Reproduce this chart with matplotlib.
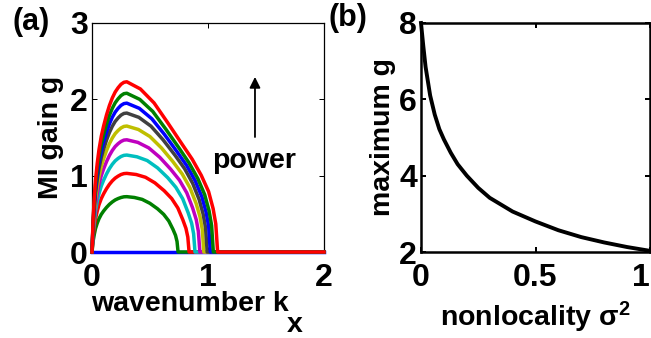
import matplotlib
matplotlib.use('Agg')
import matplotlib.pyplot as plt

plt.rcParams['font.family'] = ['Liberation Sans', 'DejaVu Sans']
plt.rcParams['font.weight'] = 'bold'
plt.rcParams['mathtext.fontset'] = 'custom'
plt.rcParams['mathtext.rm'] = 'Liberation Sans:bold'
plt.rcParams['mathtext.bf'] = 'Liberation Sans:bold'
plt.rcParams['mathtext.it'] = 'Liberation Sans:bold'
plt.rcParams['mathtext.default'] = 'rm'

# ---------------- data: panel (a) ----------------
K_RISE = [0, 0.01, 0.02, 0.03, 0.045, 0.06, 0.08, 0.1, 0.125, 0.15, 0.175, 0.2, 0.225, 0.25, 0.275, 0.3]
K_END = 2.0

g1_rise = [0] * 16
k1_fall = []
g1_fall = []

g2_rise = [0, 0.145, 0.232, 0.305, 0.377, 0.435, 0.493, 0.537, 0.584, 0.624, 0.656, 0.682, 0.700, 0.714, 0.723, 0.725]
k2_fall = [0.366, 0.433, 0.499, 0.565, 0.618, 0.662, 0.698, 0.720, 0.733, 0.742]
g2_fall = [0.714, 0.689, 0.638, 0.566, 0.493, 0.406, 0.297, 0.218, 0.138, 0]

g3_rise = [0, 0.206, 0.330, 0.433, 0.536, 0.618, 0.700, 0.762, 0.829, 0.886, 0.932, 0.968, 0.994, 1.015, 1.027, 1.03]
k3_fall = [0.381, 0.461, 0.542, 0.622, 0.687, 0.740, 0.783, 0.810, 0.826, 0.837]
g3_fall = [1.015, 0.979, 0.906, 0.803, 0.700, 0.577, 0.422, 0.309, 0.196, 0]

g4_rise = [0, 0.254, 0.406, 0.533, 0.660, 0.762, 0.864, 0.940, 1.022, 1.092, 1.149, 1.194, 1.226, 1.251, 1.266, 1.27]
k4_fall = [0.388, 0.476, 0.565, 0.653, 0.723, 0.782, 0.829, 0.859, 0.876, 0.888]
g4_fall = [1.247, 1.198, 1.102, 0.973, 0.847, 0.697, 0.514, 0.376, 0.239, 0]

g5_rise = [0, 0.294, 0.470, 0.617, 0.764, 0.882, 1.000, 1.088, 1.183, 1.264, 1.330, 1.382, 1.419, 1.448, 1.466, 1.47]
k5_fall = [0.395, 0.489, 0.584, 0.678, 0.754, 0.817, 0.867, 0.899, 0.917, 0.930]
g5_fall = [1.436, 1.364, 1.241, 1.085, 0.941, 0.775, 0.579, 0.422, 0.269, 0]

g6_rise = [0, 0.330, 0.528, 0.693, 0.858, 0.990, 1.122, 1.221, 1.328, 1.419, 1.493, 1.551, 1.592, 1.625, 1.645, 1.65]
k6_fall = [0.400, 0.499, 0.599, 0.698, 0.778, 0.844, 0.898, 0.931, 0.951, 0.964]
g6_fall = [1.605, 1.513, 1.363, 1.183, 1.021, 0.843, 0.635, 0.462, 0.295, 0]

g7_rise = [0, 0.364, 0.582, 0.764, 0.946, 1.092, 1.238, 1.347, 1.465, 1.565, 1.647, 1.711, 1.756, 1.793, 1.815, 1.82]
k7_fall = [0.404, 0.508, 0.612, 0.716, 0.799, 0.868, 0.924, 0.958, 0.979, 0.993]
g7_fall = [1.764, 1.649, 1.471, 1.267, 1.090, 0.899, 0.686, 0.497, 0.319, 0]

g8_rise = [0, 0.390, 0.624, 0.819, 1.014, 1.170, 1.326, 1.443, 1.570, 1.677, 1.765, 1.833, 1.882, 1.921, 1.944, 1.95]
k8_fall = [0.408, 0.516, 0.624, 0.732, 0.818, 0.890, 0.948, 0.984, 1.006, 1.020]
g8_fall = [1.882, 1.745, 1.541, 1.316, 1.129, 0.932, 0.720, 0.519, 0.333, 0]

g9_rise = [0, 0.416, 0.666, 0.874, 1.082, 1.248, 1.414, 1.539, 1.674, 1.789, 1.882, 1.955, 2.007, 2.049, 2.074, 2.08]
k9_fall = [0.412, 0.524, 0.636, 0.748, 0.837, 0.912, 0.971, 1.009, 1.031, 1.046]
g9_fall = [1.999, 1.841, 1.610, 1.367, 1.167, 0.963, 0.753, 0.541, 0.349, 0]

g10_rise = [0, 0.446, 0.714, 0.937, 1.160, 1.338, 1.516, 1.650, 1.795, 1.918, 2.018, 2.096, 2.152, 2.197, 2.223, 2.23]
k10_fall = [0.417, 0.535, 0.652, 0.770, 0.864, 0.942, 1.005, 1.044, 1.067, 1.083]
g10_fall = [2.136, 1.953, 1.695, 1.427, 1.215, 1.004, 0.792, 0.569, 0.368, 0]

curve_colors = [(0, 0, 1), (0, 0.5, 0), (1, 0, 0), (0, 0.75, 0.75), (0.75, 0, 0.75),
                (0.75, 0.75, 0), (0.25, 0.25, 0.25), (0, 0, 1), (0, 0.5, 0), (1, 0, 0)]

a_xticks = [0, 1, 2]
a_yticks = [0, 1, 2, 3]

# ---------------- data: panel (b) ----------------
sigma2 = [0, 0.01, 0.02, 0.04, 0.06, 0.08, 0.1, 0.13, 0.16, 0.2, 0.25, 0.3,
          0.4, 0.5, 0.6, 0.7, 0.8, 0.9, 1.0]
gmax = [8.0, 7.4, 6.85, 6.1, 5.6, 5.22, 4.95, 4.6, 4.3, 4.0, 3.68, 3.42,
        3.06, 2.8, 2.57, 2.39, 2.25, 2.13, 2.03]
b_xticks = [0, 0.5, 1]
b_xticklabels = ['0', '0.5', '1']
b_yticks = [2, 4, 6, 8]

# ---------------- figure ----------------
W, H = 651, 338
fig = plt.figure(figsize=(W / 100, H / 100), dpi=100)

axa = fig.add_axes([92 / W, 1 - 252 / H, 232 / W, 229 / H])
axb = fig.add_axes([421 / W, 1 - 252 / H, 229 / W, 229 / H])

FS = 20.5
TFS = 23

rises = [g1_rise, g2_rise, g3_rise, g4_rise, g5_rise, g6_rise, g7_rise, g8_rise, g9_rise, g10_rise]
kfalls = [k1_fall, k2_fall, k3_fall, k4_fall, k5_fall, k6_fall, k7_fall, k8_fall, k9_fall, k10_fall]
gfalls = [g1_fall, g2_fall, g3_fall, g4_fall, g5_fall, g6_fall, g7_fall, g8_fall, g9_fall, g10_fall]

for gr, kf, gf, c in zip(rises, kfalls, gfalls, curve_colors):
    ks = K_RISE + kf + [K_END]
    gs = gr + gf + [0]
    axa.plot(ks, gs, color=c, lw=2.5, solid_joinstyle='round', clip_on=False, zorder=3)

axa.set_xlim(0, 2)
axa.set_ylim(0, 3)
axa.set_xticks(a_xticks)
axa.set_yticks(a_yticks)
axa.set_ylabel('MI gain g', fontsize=FS, fontweight='bold', labelpad=4)
fig.text(190 / W, 1 - 304 / H, 'wavenumber k', fontsize=FS, fontweight='bold',
         ha='center', va='center')
fig.text(295 / W, 1 - 325 / H, 'x', fontsize=FS, fontweight='bold',
         ha='center', va='center')
axa.annotate('', xy=(1.405, 2.33), xytext=(1.405, 1.47),
             arrowprops=dict(arrowstyle='-|>', color='black', lw=1.3,
                             mutation_scale=16))
axa.text(1.40, 1.19, 'power', fontsize=FS, fontweight='bold', ha='center', va='center')

axb.plot(sigma2, gmax, color='black', lw=2.8, solid_joinstyle='round', clip_on=False, zorder=3)
axb.set_xlim(0, 1)
axb.set_ylim(2, 8)
axb.set_xticks(b_xticks)
axb.set_xticklabels(b_xticklabels)
axb.set_yticks(b_yticks)
axb.set_xlabel('nonlocality \u03c3$^{\\mathrm{2}}$', fontsize=FS, fontweight='bold', labelpad=5)
axb.set_ylabel('maximum g', fontsize=FS, fontweight='bold', labelpad=2)

for ax, spw in ((axa, 0.9), (axb, 1.8)):
    ax.tick_params(direction='in', top=True, right=True, length=3.5, width=spw * 0.8,
                   labelsize=TFS, pad=3)
    ax.tick_params(axis='x', pad=8)
    for s in ax.spines.values():
        s.set_linewidth(spw)
    for lab in ax.get_xticklabels() + ax.get_yticklabels():
        lab.set_fontweight('bold')

axb.get_xticklabels()[-1].set_horizontalalignment('right')

fig.text(12 / W, 1 - 22 / H, '(a)', fontsize=22, fontweight='bold', va='center', ha='left')
fig.text(329 / W, 1 - 18 / H, '(b)', fontsize=22, fontweight='bold', va='center', ha='left')

fig.savefig('out.png', dpi=100)
